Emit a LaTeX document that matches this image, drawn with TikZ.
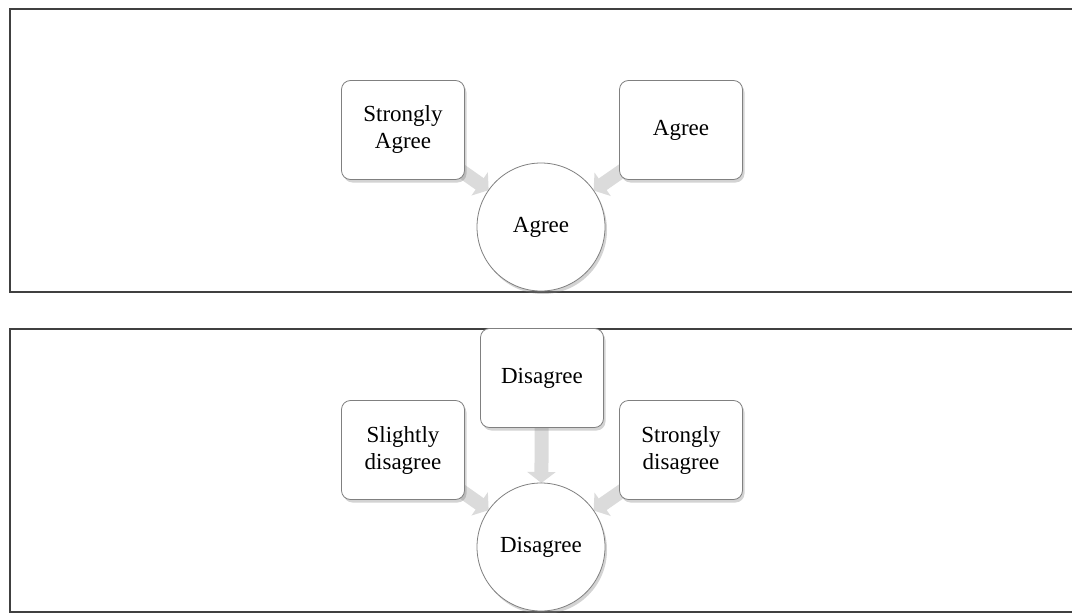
\documentclass[tikz,border=0pt]{standalone}
\usepackage{fontspec}
\setmainfont{Liberation Serif}
\usetikzlibrary{shadows,backgrounds,arrows.meta}
\begin{document}
\begin{tikzpicture}[x=1pt,y=-1pt,
  panel/.style={draw=black!75,line width=1.6pt},
  sbox/.style={draw=black!50,line width=0.8pt,fill=white,rounded corners=9pt,
    minimum width=123pt,minimum height=99pt,align=center,inner sep=2pt,
    font=\fontsize{23}{27}\selectfont,
    drop shadow={shadow xshift=2pt,shadow yshift=-3pt,opacity=0.35}},
  scirc/.style={circle,draw=black!50,line width=0.8pt,fill=white,
    minimum size=128pt,inner sep=0pt,font=\fontsize{23}{27}\selectfont,
    drop shadow={shadow xshift=2pt,shadow yshift=-3pt,opacity=0.35}},
  garrow/.style={line width=14pt,draw=black!14,shorten >=64pt,
    -{Triangle[width=28pt,length=11pt]}}
]
\useasboundingbox (0,0) rectangle (1072,613);
% panels
\draw[panel] (1072,9) -- (10,9) -- (10,292) -- (1072,292);
\draw[panel] (1072,329) -- (10,329) -- (10,612) -- (1072,612);
% top panel
\node[sbox] (sa) at (403,130) {Strongly\\Agree};
\node[sbox] (ag) at (681,130) {Agree};
\node[scirc] (c1) at (541,227) {Agree};
% bottom panel
\node[sbox] (dg) at (542,378) {Disagree};
\node[sbox] (sl) at (403,450) {Slightly\\disagree};
\node[sbox] (sd) at (681,450) {Strongly\\disagree};
\node[scirc] (c2) at (541,547) {Disagree};
\begin{scope}[on background layer]
\draw[garrow] (sa.center) -- (c1.center);
\draw[garrow] (ag.center) -- (c1.center);
\draw[garrow] (dg.center) -- (c2.center);
\draw[garrow] (sl.center) -- (c2.center);
\draw[garrow] (sd.center) -- (c2.center);
\end{scope}
\end{tikzpicture}
\end{document}
